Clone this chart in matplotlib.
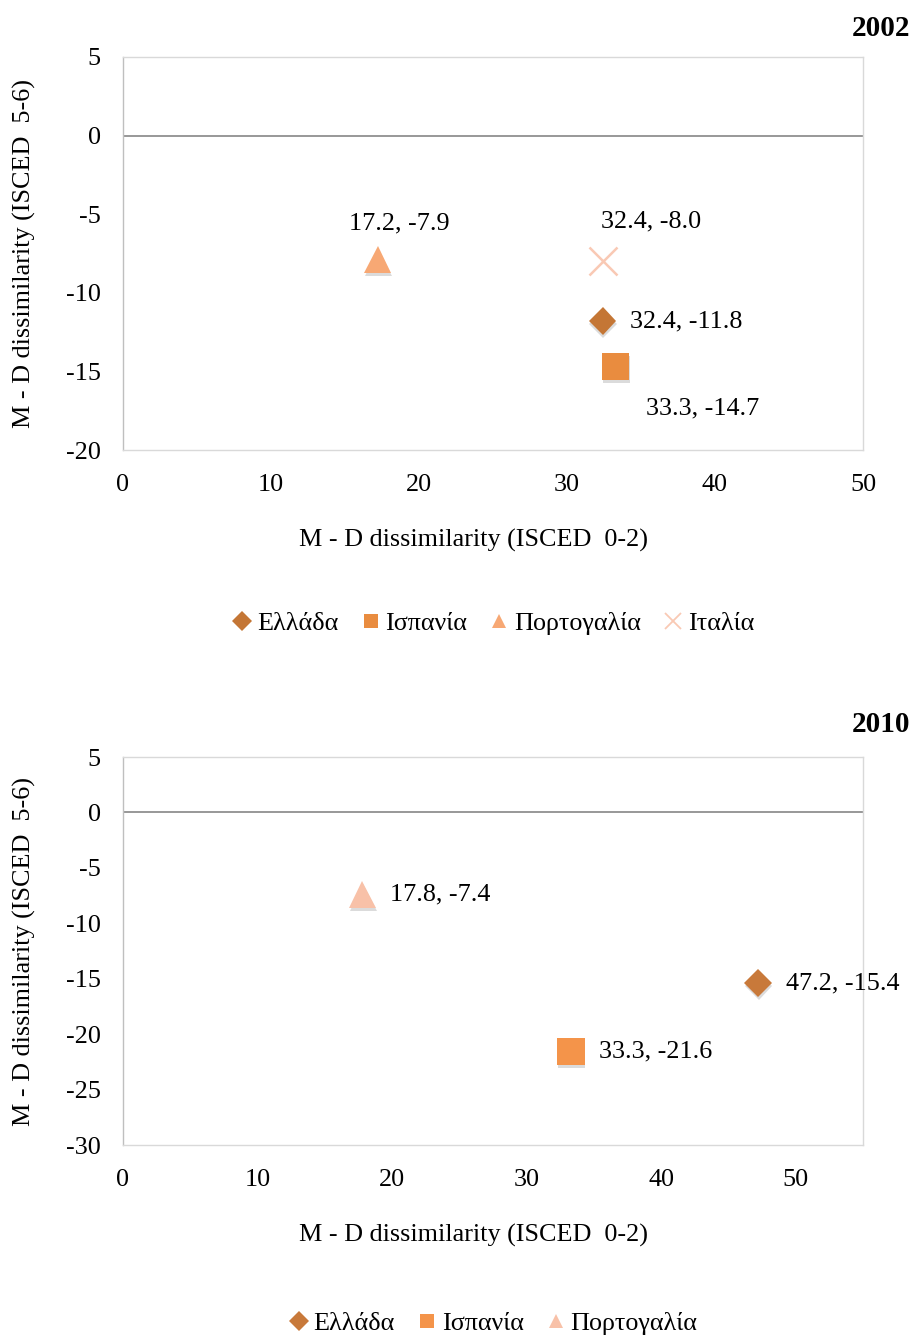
import matplotlib
matplotlib.use("Agg")
import matplotlib.pyplot as plt
import matplotlib.patheffects as pe
from matplotlib.lines import Line2D

plt.rcParams['font.family'] = ['Liberation Serif', 'DejaVu Serif']
plt.rcParams['axes.unicode_minus'] = False

countries = ['Ελλάδα', 'Ισπανία', 'Πορτογαλία', 'Ιταλία']
x_2002 = [32.4, 33.3, 17.2, 32.4]
y_2002 = [-11.8, -14.7, -7.9, -8.0]
x_2010 = [47.2, 33.3, 17.8]
y_2010 = [-15.4, -21.6, -7.4]

markers = ['D', 's', '^', 'x']
sizes = [14, 19.5, 19.5, 19.5]
colors_2002 = ['#C47635', '#E98C3F', '#F7A874', '#F9C9B4']
colors_2010 = ['#C8793A', '#F4944A', '#F8C1A8']

xlabel = 'M - D dissimilarity (ISCED  0-2)'
ylabel = 'M - D dissimilarity (ISCED  5-6)'
FS = 18.8

fig = plt.figure(figsize=(9.12, 13.37), dpi=100)
W, H = 912, 1337

def make_ax(l, t, r, b):
    return fig.add_axes([l / W, 1 - b / H, (r - l) / W, (b - t) / H])

shadow = [pe.SimplePatchShadow(offset=(0.5, -2), shadow_rgbFace='#9a9a9a', alpha=0.35), pe.Normal()]

def style(ax, xlim, ylim, yticks, xticks):
    ax.set_xlim(*xlim)
    ax.set_ylim(*ylim)
    ax.set_xticks(xticks)
    ax.set_yticks(yticks)
    ax.tick_params(length=0, labelsize=FS)
    ax.tick_params(axis='y', pad=16)
    ax.tick_params(axis='x', pad=17)
    for s in ax.spines.values():
        s.set_color('#D9D9D9')
        s.set_linewidth(1)
    ax.spines['left'].set_color('#BFBFBF')
    ax.axhline(0, color='#868686', lw=1.2, zorder=1)
    ax.set_xlabel(xlabel, fontsize=FS)
    ax.set_ylabel(ylabel, fontsize=FS)

def draw_labels(ax, xs, ys, offsets):
    for x, y, (dx, dy, ha, va) in zip(xs, ys, offsets):
        ax.annotate(f'{x:.1f}, {y:.1f}', (x, y), xytext=(dx, dy), textcoords='offset points',
                    ha=ha, va=va, fontsize=FS)

# --- 2002 ---
ax1 = make_ax(123, 57, 863, 450)
style(ax1, (0, 50), (-20, 5), [5, 0, -5, -10, -15, -20], [0, 10, 20, 30, 40, 50])
handles1 = []
for i in range(4):
    if markers[i] == 'x':
        ax1.plot(x_2002[i], y_2002[i], linestyle='none', marker='x', markersize=sizes[i],
                 markeredgewidth=1.8, color=colors_2002[i], zorder=3)
    else:
        ax1.plot(x_2002[i], y_2002[i], linestyle='none', marker=markers[i],
                 markersize=sizes[i], color=colors_2002[i], markeredgewidth=0, zorder=3,
                 path_effects=shadow)
    handles1.append(Line2D([], [], linestyle='none', marker=markers[i],
                           markersize=10 if markers[i] != 'x' else 12,
                           color=colors_2002[i], markeredgewidth=0 if markers[i] != 'x' else 1.3))
draw_labels(ax1, x_2002, y_2002, [(20, 0, 'left', 'center'),
                                  (22, -22, 'left', 'top'),
                                  (16, 18, 'center', 'bottom'),
                                  (35, 21, 'center', 'bottom')])
ax1.xaxis.set_label_coords((474 - 123) / (863 - 123), -(540 - 450) / (450 - 57), transform=ax1.transAxes)
ax1.xaxis.label.set_va('center')
ax1.yaxis.set_label_coords(-(123 - 24) / (863 - 123), 0.5)
ax1.yaxis.label.set_va('center')
fig.text(910 / W, 1 - 28 / H, '2002', ha='right', va='center', fontsize=21, fontweight='bold')
fig.legend(handles1, countries, loc='center', bbox_to_anchor=(491 / W, 1 - 623 / H), ncol=4,
           frameon=False, fontsize=FS, handletextpad=0.0, columnspacing=0.7, handlelength=1.1)

# --- 2010 ---
ax2 = make_ax(123, 757, 863, 1145)
style(ax2, (0, 55), (-30, 5), [5, 0, -5, -10, -15, -20, -25, -30], [0, 10, 20, 30, 40, 50])
handles2 = []
for i in range(3):
    ax2.plot(x_2010[i], y_2010[i], linestyle='none', marker=markers[i], markersize=sizes[i],
             color=colors_2010[i], markeredgewidth=0, zorder=3, path_effects=shadow)
    handles2.append(Line2D([], [], linestyle='none', marker=markers[i], markersize=10,
                           color=colors_2010[i], markeredgewidth=0))
draw_labels(ax2, x_2010, y_2010, [(20, 0, 'left', 'center'),
                                  (20, 0, 'left', 'center'),
                                  (20, 0, 'left', 'center')])
ax2.xaxis.set_label_coords((474 - 123) / (863 - 123), -(1235 - 1145) / (1145 - 757), transform=ax2.transAxes)
ax2.xaxis.label.set_va('center')
ax2.yaxis.set_label_coords(-(123 - 24) / (863 - 123), 0.5)
ax2.yaxis.label.set_va('center')
fig.text(910 / W, 1 - 725 / H, '2010', ha='right', va='center', fontsize=21, fontweight='bold')
fig.legend(handles2, countries[:3], loc='center', bbox_to_anchor=(491 / W, 1 - 1323 / H), ncol=3,
           frameon=False, fontsize=FS, handletextpad=0.0, columnspacing=0.7, handlelength=1.1)

fig.savefig('out.png', dpi=100, facecolor='white')
